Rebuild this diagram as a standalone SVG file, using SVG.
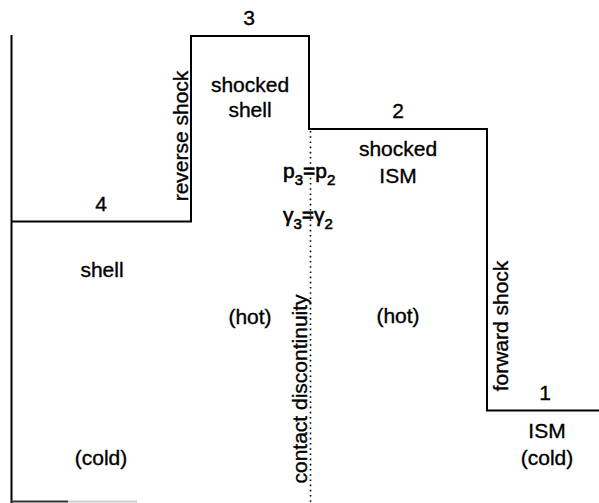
<svg xmlns="http://www.w3.org/2000/svg" width="599" height="503" viewBox="0 0 599 503">
<style>
text{font-family:"Liberation Sans",Arial,Helvetica,sans-serif;font-size:21px;fill:#000;stroke:#000;stroke-width:0.35;text-anchor:middle}
.sub{font-size:15px}
.eq{stroke-width:0.6;text-anchor:start}
.prof{fill:none;stroke:#000;stroke-width:2}
.cd{fill:none;stroke:#000;stroke-width:1.6;stroke-dasharray:1.6 3.6}
</style>
<rect width="599" height="503" fill="#fff"/>
<g id="profile">
<polyline class="prof" points="11.5,35 11.5,503"/>
<polyline class="prof" points="11.5,221.5 191,221.5 191,36 309,36 309,129 487,129 487,410.5 599,410.5"/>
<line x1="11" y1="501.5" x2="68" y2="501.5" stroke="#333" stroke-width="2"/>
<line x1="68" y1="501.5" x2="137" y2="501.5" stroke="#ccc" stroke-width="2"/>
</g>
<g id="contact">
<line class="cd" x1="310.5" y1="131" x2="310.5" y2="503"/>
</g>
<g id="region4">
<text x="101" y="211">4</text>
<text x="102" y="277">shell</text>
<text x="101" y="465">(cold)</text>
</g>
<g id="region3">
<text x="249" y="25">3</text>
<text x="250" y="92">shocked</text>
<text x="250" y="117">shell</text>
<text x="250" y="324">(hot)</text>
</g>
<g id="region2">
<text x="398" y="118">2</text>
<text x="398" y="156">shocked</text>
<text x="398" y="183">ISM</text>
<text x="398" y="323">(hot)</text>
</g>
<g id="region1">
<text x="545" y="400">1</text>
<text x="547" y="438">ISM</text>
<text x="547" y="465">(cold)</text>
</g>
<g id="labels">
<text transform="translate(188,136) rotate(-90)">reverse shock</text>
<text transform="translate(307,389) rotate(-90)">contact discontinuity</text>
<text transform="translate(508,326) rotate(-90)">forward shock</text>
<text class="eq" x="283" y="178">p<tspan class="sub" dy="7">3</tspan><tspan dy="-7">=p</tspan><tspan class="sub" dy="7">2</tspan></text>
<text class="eq" x="283" y="222">γ<tspan class="sub" dy="7">3</tspan><tspan dy="-7">=γ</tspan><tspan class="sub" dy="7">2</tspan></text>
</g>
</svg>
